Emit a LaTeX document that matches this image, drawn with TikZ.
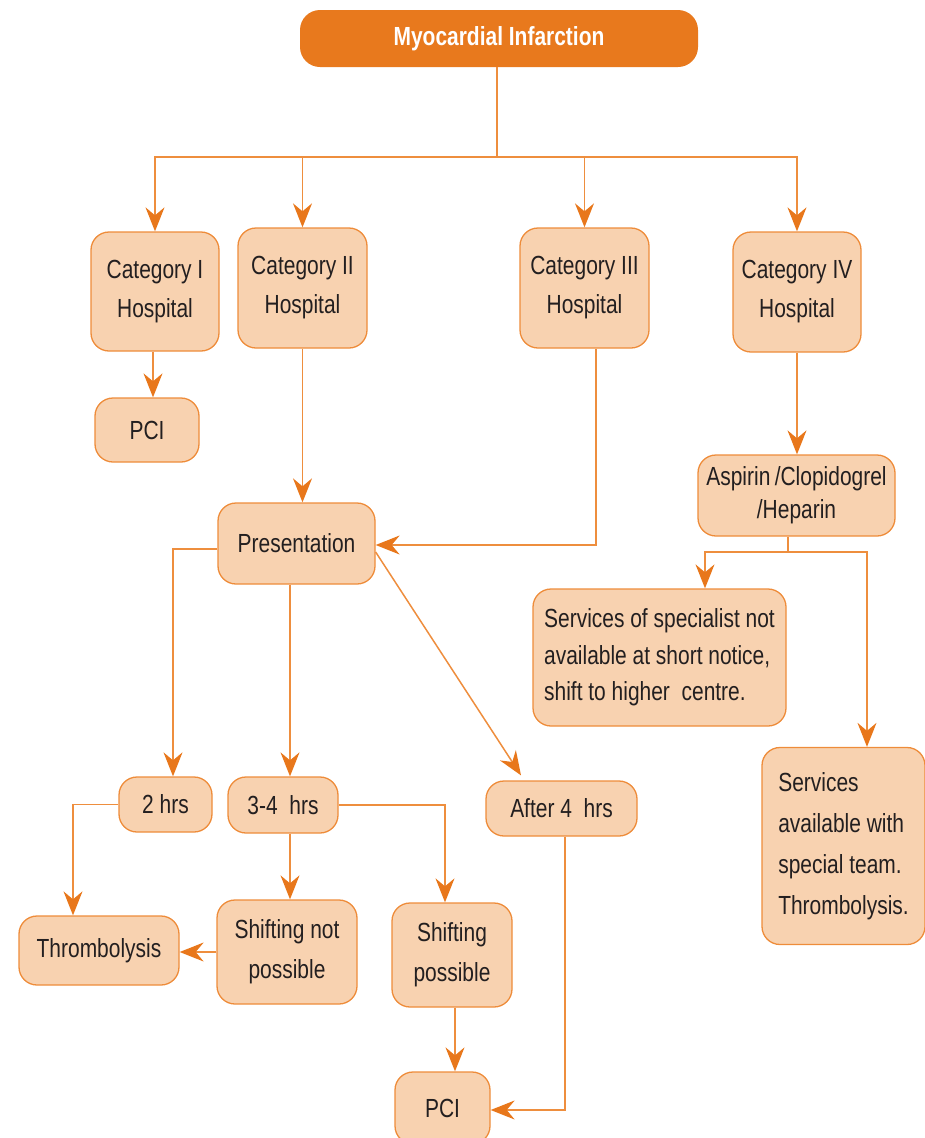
\documentclass[tikz,border=0pt]{standalone}
\usepackage{fontspec}
\setmainfont{Liberation Sans}[FakeStretch=0.80]
\usetikzlibrary{arrows.meta}
\definecolor{mainorange}{HTML}{E8791D}
\definecolor{boxfill}{HTML}{F8D2B0}
\definecolor{boxline}{HTML}{EE8C3A}
\definecolor{wire}{HTML}{EE8E3E}
\definecolor{tipcol}{HTML}{E8771B}
\definecolor{ink}{HTML}{231F20}
\begin{document}
\begin{tikzpicture}[x=1pt,y=1pt,
  box/.style={draw=boxline, fill=boxfill, line width=1.3pt, rounded corners=18pt,
    inner sep=0pt, align=center, text=ink,
    font=\fontsize{26.2}{39}\selectfont},
  leftbox/.style={box, align=left},
  titlebox/.style={fill=mainorange, rounded corners=20pt, inner sep=0pt,
    text=white, font=\fontsize{26.2}{30}\selectfont\bfseries},
  link/.style={draw=wire, line width=1.5pt},
  arr/.style={link, -{Stealth[length=24pt,width=19pt,inset=8pt,color=tipcol]}}
]
\useasboundingbox (0,0) rectangle (924,-1138);

% title
\node[titlebox, minimum width=398, minimum height=57] (mi) at (499,-38.5) {Myocardial Infarction};

% hospital categories
\node[box, minimum width=128, minimum height=119] (c1) at (155,-291.5) {Category I\\Hospital};
\node[box, minimum width=129, minimum height=120] (c2) at (302.5,-288) {Category II\\Hospital};
\node[box, minimum width=129, minimum height=120] (c3) at (584.5,-288) {Category III\\Hospital};
\node[box, minimum width=128, minimum height=120] (c4) at (797,-292) {Category IV\\Hospital};

% second level
\node[box, minimum width=104, minimum height=64] (pci1) at (147,-430) {PCI};
\node[box, minimum width=157, minimum height=81] (pres) at (296.5,-543.5) {Presentation};
\node[box, minimum width=197, minimum height=81, font=\fontsize{26.2}{33}\selectfont] (asp) at (796.5,-495.5) {Aspirin\,/Clopidogrel\\/Heparin};
\node[leftbox, minimum width=253, minimum height=137, font=\fontsize{26.2}{36.5}\selectfont] (s1) at (659.5,-657.5)
  {Services of specialist not\\available at short notice,\\shift to higher\ \ centre.};
\node[leftbox, minimum width=163, minimum height=197, font=\fontsize{26.2}{41}\selectfont] (s2) at (843.5,-846)
  {Services\\available with\\special team.\\Thrombolysis.};

% time windows
\node[box, minimum width=93, minimum height=55] (h2) at (165.5,-804.5) {2 hrs};
\node[box, minimum width=110, minimum height=56] (h34) at (283,-805) {3-4\ \ hrs};
\node[box, minimum width=151, minimum height=55] (a4) at (561.5,-808.5) {After 4\ \ hrs};

% outcomes
\node[box, minimum width=160, minimum height=69] (thr) at (99,-950.5) {Thrombolysis};
\node[box, minimum width=140, minimum height=104, font=\fontsize{26.2}{40}\selectfont] (snp) at (287,-952) {Shifting not\\possible};
\node[box, minimum width=120, minimum height=104, font=\fontsize{26.2}{40}\selectfont] (sp) at (452,-955) {Shifting\\possible};
\node[box, minimum width=95, minimum height=72] (pci2) at (442.5,-1108) {PCI};

% branching from the title
\coordinate (hub) at (497,-157);
\draw[link] (mi.south -| hub) -- (hub);
\draw[arr] (hub) -| (c1.north);
\draw[arr] (hub) -| (c2.north);
\draw[arr] (hub) -| (c3.north);
\draw[arr] (hub) -| (c4.north);

% category paths
\draw[arr] ([xshift=6]c1.south -| pci1.north) -- ([xshift=6]pci1.north);
\draw[arr] (c2.south) -- (pres.north -| c2.south);
\draw[arr] ([xshift=11.5]c3.south) |- ([yshift=-1.5]pres.east);
\draw[arr] (c4.south) -- (asp.north -| c4.south);

% aspirin split
\coordinate (aj) at (788,-552);
\draw[link] (asp.south -| aj) -- (aj);
\draw[arr] (aj) -| ([xshift=45.5]s1.north);
\draw[arr] (aj) -| ([xshift=23.5]s2.north);

% presentation split
\draw[arr] ([yshift=-5.5]pres.west) -| ([xshift=7.5]h2.north);
\draw[arr] ([xshift=-6.5]pres.south) -- ([xshift=-6.5]pres.south |- h34.north);
\draw[arr] ([yshift=-8.5]pres.east) -- ([xshift=-40.5,yshift=5]a4.north);

% time window outcomes
\draw[arr] (h2.west) -| ([xshift=-26]thr.north);
\draw[arr] ([xshift=7]h34.south) -- ([xshift=7]h34.south |- snp.north);
\draw[arr] (h34.east) -| ([xshift=-7]sp.north);
\draw[arr] (snp.west) -- (snp.west -| thr.east);
\draw[arr] ([xshift=3]sp.south) -- ([xshift=3]sp.south |- pci2.north);
\draw[arr] ([xshift=3.5]a4.south) |- ([yshift=-2]pci2.east);
\end{tikzpicture}
\end{document}
